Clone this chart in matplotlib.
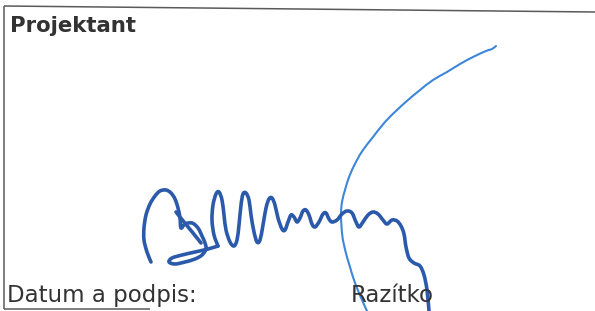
import matplotlib
matplotlib.use("Agg")
import matplotlib.pyplot as plt
from matplotlib.path import Path
from matplotlib.patches import PathPatch

W, H = 595, 311

# Text labels
title_text = "Projektant"
date_label = "Datum a podpis:"
stamp_label = "Razítko"

# Frame lines (pixel coords)
frame_left_x = [4, 4]
frame_left_y = [6, 309]
frame_top_x = [4, 595]
frame_top_y = [6, 12]
frame_bottom_x = [4, 150]
frame_bottom_y = [309, 309]

# Signature strokes (pixel coords)
sig_a_x = [151, 147, 144, 144, 146, 150, 155, 160, 166, 171, 175, 178, 180, 181,
           185, 192, 198, 202, 205, 206, 202, 195, 185, 175, 169, 172, 182, 195, 208, 218]
sig_a_y = [262, 252, 240, 228, 215, 204, 196, 191, 190, 193, 199, 208, 218, 228,
           224, 223, 228, 236, 243, 249, 255, 259, 262, 264, 262, 258, 255, 252, 249, 246]

sig_b_x = [176, 184, 193, 201]
sig_b_y = [212, 222, 233, 243]

sig_c_x = [218, 214, 212, 213, 216, 219, 222, 224, 226, 230, 234, 237, 239, 241, 243, 246,
           249, 251, 254, 257, 260, 263, 266, 269, 272, 275, 278, 282, 285, 288, 291, 294,
           297, 300, 303, 306, 309, 312, 315, 319, 323, 326, 329, 332, 337, 342, 347, 352,
           356, 359, 363, 368, 373, 378, 383, 387, 392, 397, 401, 404, 406, 409, 414, 420,
           424, 427, 429]
sig_c_y = [246, 235, 220, 205, 194, 192, 200, 215, 230, 242, 246, 240, 225, 205, 194, 193,
           200, 215, 232, 242, 240, 225, 208, 199, 198, 205, 218, 229, 230, 222, 215, 217,
           222, 218, 211, 210, 215, 224, 227, 222, 214, 213, 219, 222, 220, 214, 211, 213,
           222, 227, 222, 215, 212, 214, 220, 224, 220, 221, 226, 234, 247, 258, 263, 266,
           275, 290, 311]

# Thin stamp arc
arc_x = [496, 492, 486, 473, 460, 447, 433, 420, 408, 397, 385, 373, 363, 357, 352,
         348, 345, 342, 341, 342, 344, 347, 350, 353, 357, 362, 367]
arc_y = [46, 49, 51, 57, 64, 72, 80, 90, 100, 110, 122, 137, 150, 160, 170,
         180, 190, 202, 215, 233, 245, 257, 267, 277, 288, 300, 311]


def smooth_path(xs, ys):
    """Build a cubic Bezier path through the given points (Catmull-Rom control points)."""
    pts = list(zip(xs, ys))
    verts = [pts[0]]
    codes = [Path.MOVETO]
    n = len(pts)
    for i in range(n - 1):
        p0 = pts[i - 1] if i > 0 else pts[i]
        p1 = pts[i]
        p2 = pts[i + 1]
        p3 = pts[i + 2] if i + 2 < n else pts[i + 1]
        c1 = (p1[0] + (p2[0] - p0[0]) / 6.0, p1[1] + (p2[1] - p0[1]) / 6.0)
        c2 = (p2[0] - (p3[0] - p1[0]) / 6.0, p2[1] - (p3[1] - p1[1]) / 6.0)
        verts += [c1, c2, p2]
        codes += [Path.CURVE4, Path.CURVE4, Path.CURVE4]
    return Path(verts, codes)


fig = plt.figure(figsize=(W / 100, H / 100), dpi=100)
ax = fig.add_axes([0, 0, 1, 1])
ax.set_xlim(0, W)
ax.set_ylim(H, 0)
ax.axis("off")

frame_col = "#5a5a5a"
for xs, ys in [(frame_left_x, frame_left_y), (frame_top_x, frame_top_y),
               (frame_bottom_x, frame_bottom_y)]:
    ax.plot(xs, ys, color=frame_col, lw=1.1, solid_capstyle="butt")

ax.text(10, 32, title_text, fontsize=15.3, fontweight="bold", color="#333333",
        family="DejaVu Sans", va="baseline", ha="left")
ax.text(7, 302, date_label, fontsize=16.5, color="#333333",
        family="DejaVu Sans", va="baseline", ha="left")
ax.text(351, 302, stamp_label, fontsize=16.5, color="#333333",
        family="DejaVu Sans", va="baseline", ha="left")

ax.add_patch(PathPatch(smooth_path(arc_x, arc_y), facecolor="none", edgecolor="#3d86da",
                       lw=1.5, capstyle="round", joinstyle="round"))

sig_col = "#2b5aab"
for xs, ys in [(sig_a_x, sig_a_y), (sig_b_x, sig_b_y), (sig_c_x, sig_c_y)]:
    ax.add_patch(PathPatch(smooth_path(xs, ys), facecolor="none", edgecolor=sig_col,
                           lw=2.6, capstyle="round", joinstyle="round"))

fig.savefig("out.png", dpi=100)
